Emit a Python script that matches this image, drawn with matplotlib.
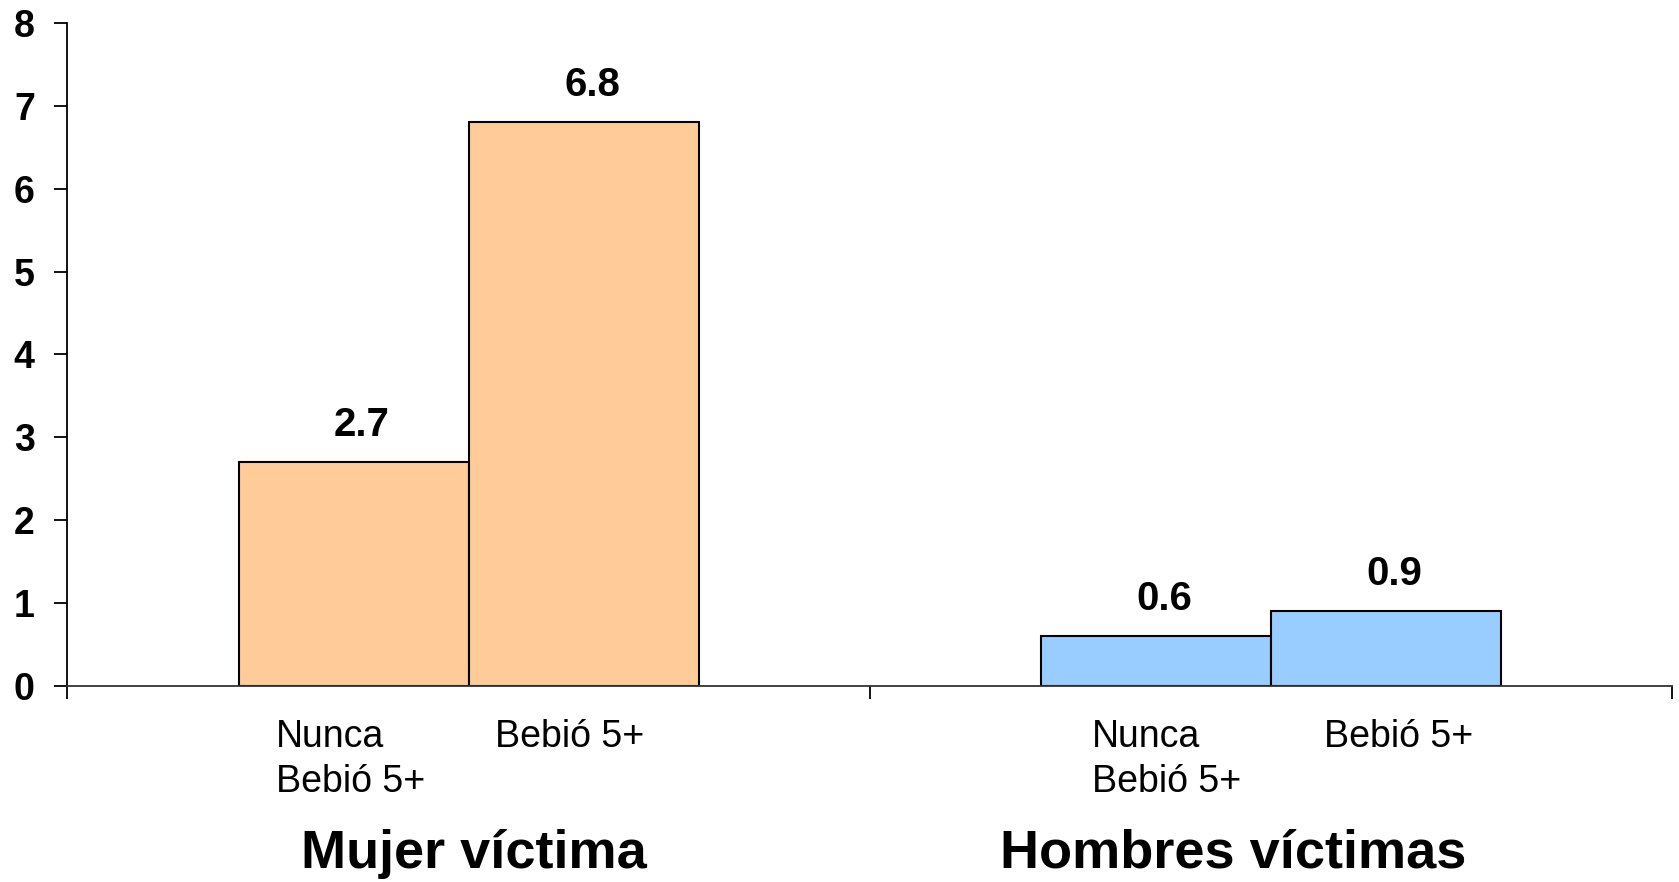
import matplotlib
matplotlib.use("Agg")
import matplotlib.pyplot as plt
from matplotlib import transforms

plt.rcParams['font.family'] = ['Liberation Sans', 'DejaVu Sans']

# datos
grupos = ["Mujer víctima", "Hombres víctimas"]
categorias = ["Nunca\nBebió 5+", "Bebió 5+"]
valores_mujer = [2.7, 6.8]
valores_hombre = [0.6, 0.9]
colores = ["#FFCC99", "#99CCFF"]
y_ticks = [0, 1, 2, 3, 4, 5, 6, 7, 8]

# posición (borde izquierdo) de las etiquetas de categoría, en unidades del eje x
x_etiquetas = [[0.26, 0.533], [1.277, 1.566]]
x_grupos = [0.507, 1.453]

fig = plt.figure(figsize=(16.79, 8.82), dpi=100)
ax = fig.add_axes([0.0402, 0.2222, 0.9556, 0.7518])
trans = transforms.blended_transform_factory(ax.transData, ax.transAxes)
trans_fig = transforms.blended_transform_factory(ax.transData, fig.transFigure)

ancho = 0.2868
serie = [valores_mujer, valores_hombre]
for g, vals in enumerate(serie):
    centro = g + 0.5
    xs = [centro - ancho / 2, centro + ancho / 2]
    barras = ax.bar(xs, vals, width=ancho, color=colores[g],
                    edgecolor="black", linewidth=1.5, zorder=2)
    for b, v in zip(barras, vals):
        ax.annotate(f"{v:.1f}", (b.get_x() + b.get_width() / 2, v),
                    xytext=(6, 13), textcoords="offset points",
                    ha="center", va="bottom", fontsize=29, fontweight="bold")
    # etiquetas de categoría
    for x, lab in zip(x_etiquetas[g], categorias):
        ax.text(x, -0.05, lab, transform=trans, ha="left", va="top",
                multialignment="left", fontsize=27, linespacing=1.33)
    ax.text(x_grupos[g], 0.016, grupos[g], ha="center", va="baseline",
            fontsize=39, fontweight="bold", transform=trans_fig)

ax.set_xlim(0, 2)
ax.set_ylim(0, 8)
ax.set_yticks(y_ticks)
ax.set_xticks([0, 1, 2])
ax.set_xticklabels([])
ax.tick_params(axis="y", direction="out", length=9.5, width=1.3,
               labelsize=27, pad=14)
ax.tick_params(axis="x", direction="out", length=9, width=1.3)
for lab in ax.get_yticklabels():
    lab.set_fontweight("bold")

for s in ["top", "right"]:
    ax.spines[s].set_visible(False)
ax.spines["left"].set_linewidth(1.3)
ax.spines["bottom"].set_linewidth(1.3)
ax.spines["bottom"].set_color("#333333")

fig.savefig("out.png", dpi=100)
